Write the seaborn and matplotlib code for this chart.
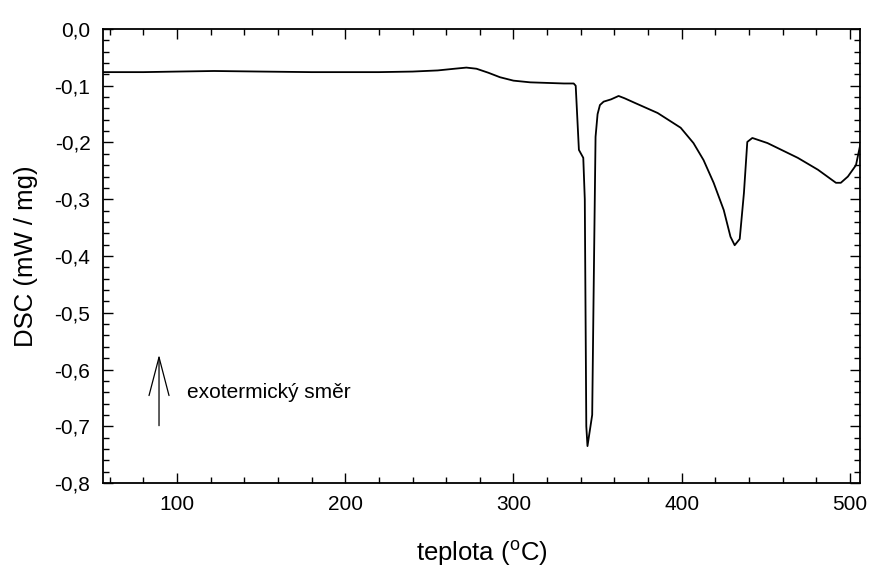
import matplotlib
matplotlib.use("Agg")
import matplotlib.pyplot as plt
import seaborn as sns
import pandas as pd
from matplotlib.ticker import MultipleLocator, FuncFormatter

temperature = [56, 80, 100, 122, 150, 180, 200, 220, 240, 255, 265, 272, 278, 285, 292, 300,
               310, 320, 330, 335.8, 337, 338.9, 341.5, 342.4, 343.3, 344.0, 346.8, 347.6,
               348.8, 350.0, 351.4, 353.6, 358.0, 362.5, 366.0, 372.0, 385.7, 399.4, 407.0,
               413.0, 419.0, 425.0, 429.0, 431.5, 434.5, 437.0, 439.0, 442.0, 451.0, 469.0,
               481.0, 491.7, 494.6, 498.8, 503.6, 506.5]
dsc = [-0.076, -0.076, -0.075, -0.074, -0.075, -0.076, -0.076, -0.076, -0.075, -0.073, -0.070,
       -0.068, -0.070, -0.077, -0.085, -0.091, -0.094, -0.095, -0.096, -0.096, -0.100, -0.213,
       -0.227, -0.300, -0.700, -0.735, -0.680, -0.478, -0.190, -0.150, -0.134, -0.128, -0.124,
       -0.118, -0.122, -0.130, -0.148, -0.174, -0.201, -0.231, -0.271, -0.319, -0.366, -0.381,
       -0.370, -0.289, -0.199, -0.192, -0.201, -0.227, -0.248, -0.271, -0.271, -0.260, -0.240,
       -0.199]

x_label = "teplota ($\\mathregular{^{o}}$C)"
y_label = "DSC (mW / mg)"
note_text = "exotermický směr"

sns.set_theme(style="ticks")
plt.rcParams['font.family'] = ['Liberation Sans', 'DejaVu Sans']

df = pd.DataFrame({"T": temperature, "DSC": dsc})

fig = plt.figure(figsize=(8.7, 5.68), dpi=100)
ax = fig.add_axes([103 / 870, 1 - 483 / 568, 757 / 870, 454 / 568])
sns.lineplot(data=df, x="T", y="DSC", ax=ax, color="black", linewidth=1.3, sort=False,
             estimator=None)

ax.set_xlim(56, 506)
ax.set_ylim(-0.8, 0.0)
ax.xaxis.set_major_locator(MultipleLocator(100))
ax.xaxis.set_minor_locator(MultipleLocator(20))
ax.yaxis.set_major_locator(MultipleLocator(0.1))
ax.yaxis.set_minor_locator(MultipleLocator(0.02))
ax.yaxis.set_major_formatter(FuncFormatter(lambda v, p: f"{v:.1f}".replace(".", ",").replace("−", "-")))
ax.tick_params(which="both", direction="in", top=True, right=True, width=1.0, color="black",
               labelsize=15, labelcolor="black")
ax.tick_params(which="major", length=7, pad=9)
ax.tick_params(which="minor", length=4)
for s in ax.spines.values():
    s.set_linewidth(1.3)
    s.set_color("black")

ax.set_xlabel(x_label, fontsize=18.5, labelpad=18, color="black")
ax.set_ylabel(y_label, fontsize=18.5, labelpad=12, color="black")

ax.annotate("", xy=(89.3, -0.574), xytext=(89.3, -0.699),
            arrowprops=dict(arrowstyle="->,head_length=2.3,head_width=0.6", color="black",
                            lw=0.9, shrinkA=0, shrinkB=0))
ax.text(106, -0.641, note_text, fontsize=15, va="center", ha="left", color="black")

fig.savefig("out.png", dpi=100)
